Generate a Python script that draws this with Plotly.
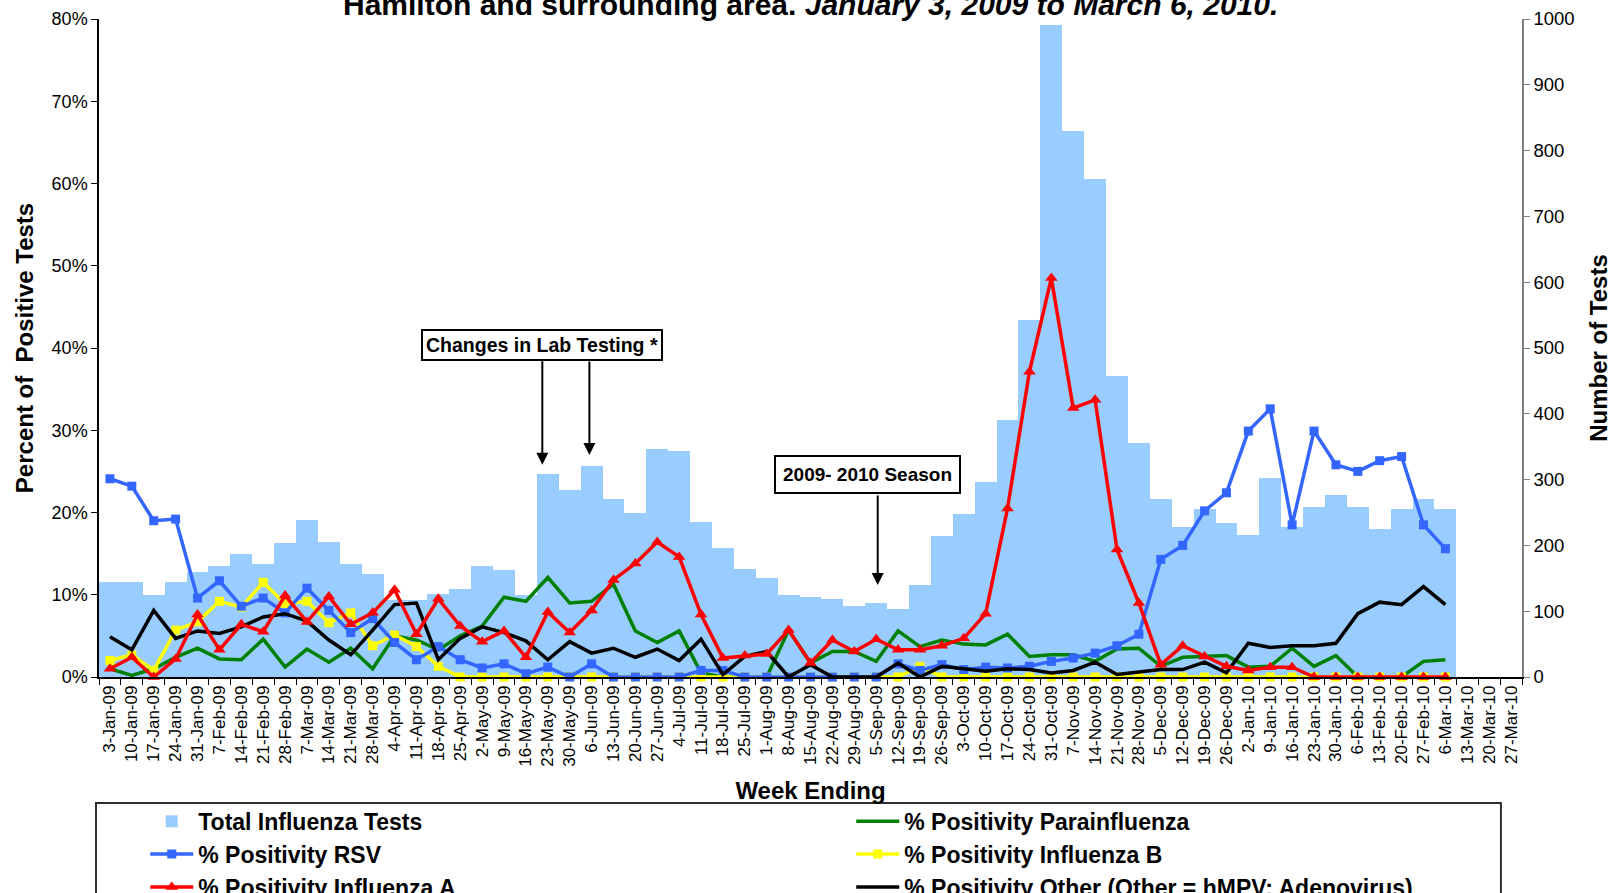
import plotly.graph_objects as go

weeks = ["3-Jan-09", "10-Jan-09", "17-Jan-09", "24-Jan-09", "31-Jan-09",
         "7-Feb-09", "14-Feb-09", "21-Feb-09", "28-Feb-09",
         "7-Mar-09", "14-Mar-09", "21-Mar-09", "28-Mar-09",
         "4-Apr-09", "11-Apr-09", "18-Apr-09", "25-Apr-09",
         "2-May-09", "9-May-09", "16-May-09", "23-May-09", "30-May-09",
         "6-Jun-09", "13-Jun-09", "20-Jun-09", "27-Jun-09",
         "4-Jul-09", "11-Jul-09", "18-Jul-09", "25-Jul-09",
         "1-Aug-09", "8-Aug-09", "15-Aug-09", "22-Aug-09", "29-Aug-09",
         "5-Sep-09", "12-Sep-09", "19-Sep-09", "26-Sep-09",
         "3-Oct-09", "10-Oct-09", "17-Oct-09", "24-Oct-09", "31-Oct-09",
         "7-Nov-09", "14-Nov-09", "21-Nov-09", "28-Nov-09",
         "5-Dec-09", "12-Dec-09", "19-Dec-09", "26-Dec-09",
         "2-Jan-10", "9-Jan-10", "16-Jan-10", "23-Jan-10", "30-Jan-10",
         "6-Feb-10", "13-Feb-10", "20-Feb-10", "27-Feb-10",
         "6-Mar-10", "13-Mar-10", "20-Mar-10", "27-Mar-10"]

# weeks with data: 3-Jan-09 .. 6-Mar-10
data_weeks = weeks[:62]

total_tests = [144, 145, 125, 145, 160, 168, 187, 172, 204, 238, 205, 172, 157,
               117, 117, 126, 134, 169, 163, 125, 308, 284, 320, 271, 250, 347,
               343, 236, 196, 164, 150, 125, 121, 118, 108, 113, 103, 140, 215,
               247, 296, 391, 543, 991, 830, 757, 458, 356, 270, 228, 256, 234,
               216, 303, 228, 259, 276, 259, 225, 255, 271, 255]

rsv = [24.1, 23.2, 19.0, 19.2, 9.6, 11.7, 8.6, 9.6, 7.8, 10.8, 8.1, 5.4, 7.1,
       4.2, 2.1, 3.7, 2.1, 1.1, 1.6, 0.4, 1.2, 0.0, 1.6, 0.0, 0.0, 0.0, 0.0,
       0.8, 0.8, 0.0, 0.0, 0.0, 0.0, 0.0, 0.0, 0.0, 1.6, 0.8, 1.5, 0.9, 1.2,
       1.1, 1.3, 1.9, 2.3, 2.9, 3.8, 5.2, 14.3, 16.0, 20.2, 22.4, 29.9, 32.6,
       18.5, 29.9, 25.8, 25.0, 26.3, 26.8, 18.5, 15.6]

flu_a = [1.0, 2.4, 0.0, 2.2, 7.6, 3.3, 6.4, 5.5, 9.9, 6.7, 9.8, 6.4, 7.8,
         10.6, 5.2, 9.5, 6.2, 4.3, 5.6, 2.4, 7.9, 5.4, 8.1, 11.8, 13.8, 16.4,
         14.6, 7.6, 2.3, 2.6, 2.8, 5.7, 1.7, 4.5, 3.1, 4.6, 3.3, 3.3, 3.8, 4.7,
         7.7, 20.5, 37.1, 48.5, 32.7, 33.7, 15.5, 9.0, 1.5, 3.8, 2.5, 1.3, 0.8,
         1.2, 1.2, 0.0, 0.0, 0.0, 0.0, 0.0, 0.0, 0.0]

parainfluenza = [1.0, 0.2, 1.0, 2.4, 3.5, 2.2, 2.1, 4.6, 1.2, 3.4, 1.8, 3.5,
                 1.0, 5.0, 4.5, 3.3, 5.0, 6.2, 9.7, 9.2, 12.1, 9.0, 9.2, 11.3,
                 5.6, 4.2, 5.6, 0.5, 0.0, 0.0, 0.0, 5.7, 1.7, 3.1, 3.1, 1.9,
                 5.6, 3.7, 4.5, 4.0, 3.9, 5.2, 2.5, 2.7, 2.7, 1.9, 3.4, 3.5,
                 1.3, 2.4, 2.5, 2.6, 1.2, 1.3, 3.5, 1.3, 2.6, 0.0, 0.0, 0.0,
                 1.9, 2.1]

flu_b = [2.0, 2.7, 0.8, 5.7, 6.7, 9.2, 8.5, 11.5, 8.9, 9.2, 6.6, 7.8, 3.8,
         5.1, 3.7, 1.3, 0.0, 0.0, 0.0, 0.0, 0.0, 0.0, 0.0, 0.0, 0.0, 0.0, 0.0,
         0.0, 0.0, 0.0, 0.0, 0.0, 0.0, 0.0, 0.0, 0.0, 0.0, 1.3, 0.0, 0.0, 0.0,
         0.0, 0.0, 0.0, 0.0, 0.0, 0.0, 0.0, 0.0, 0.0, 0.0, 0.0, 0.0, 0.0, 0.0,
         0.0, 0.0, 0.0, 0.0, 0.0, 0.0, 0.0]

other = [4.9, 3.3, 8.1, 4.7, 5.6, 5.3, 6.1, 7.3, 7.7, 6.8, 4.5, 2.7, 5.7, 8.8,
         9.0, 2.1, 4.7, 6.1, 5.4, 4.4, 2.1, 4.3, 2.9, 3.5, 2.4, 3.4, 2.0, 4.6,
         0.3, 2.5, 3.1, 0.0, 1.5, 0.0, 0.0, 0.0, 1.7, 0.0, 1.3, 1.0, 0.7, 1.0,
         0.9, 0.5, 0.8, 1.8, 0.3, 0.6, 0.9, 0.9, 1.8, 0.5, 4.1, 3.6, 3.8, 3.8,
         4.1, 7.7, 9.1, 8.8, 11.0, 8.8]

FONT = "Liberation Sans, Arial, sans-serif"

fig = go.Figure()

fig.add_trace(go.Bar(
    x=data_weeks, y=total_tests, yaxis="y",
    name="<b>Total Influenza Tests</b>", legendrank=1,
    marker=dict(color="#99CCFF", line=dict(width=0)),
))

line_w = 3.5
fig.add_trace(go.Scatter(
    x=data_weeks, y=parainfluenza, yaxis="y2", mode="lines",
    name="<b>% Positivity Parainfluenza</b>", legendrank=2,
    line=dict(color="#008000", width=line_w), cliponaxis=False,
))
fig.add_trace(go.Scatter(
    x=data_weeks, y=flu_b, yaxis="y2", mode="lines+markers",
    name="<b>% Positivity Influenza B</b>", legendrank=4,
    line=dict(color="#FFFF00", width=line_w),
    marker=dict(symbol="square", size=9, color="#FFFF00"), cliponaxis=False,
))
fig.add_trace(go.Scatter(
    x=data_weeks, y=rsv, yaxis="y2", mode="lines+markers",
    name="<b>% Positivity RSV</b>", legendrank=3,
    line=dict(color="#3366FF", width=line_w),
    marker=dict(symbol="square", size=9, color="#3366FF"), cliponaxis=False,
))
fig.add_trace(go.Scatter(
    x=data_weeks, y=other, yaxis="y2", mode="lines",
    name="<b>% Positivity Other (Other = hMPV; Adenovirus)</b>", legendrank=6,
    line=dict(color="#000000", width=line_w), cliponaxis=False,
))
fig.add_trace(go.Scatter(
    x=data_weeks, y=flu_a, yaxis="y2", mode="lines+markers",
    name="<b>% Positivity Influenza A</b>", legendrank=5,
    line=dict(color="#FF0000", width=line_w),
    marker=dict(symbol="triangle-up", size=11, color="#FF0000"), cliponaxis=False,
))

annotations = [
    dict(xref="paper", yref="paper", x=0.5, y=0.994, xanchor="center", yanchor="bottom",
         text="<b>Hamilton and surrounding area. <i>January 3, 2009 to March 6, 2010.</i></b>",
         showarrow=False, font=dict(family=FONT, size=30, color="black")),
    dict(xref="x", yref="y2", x=19.72, y=40.4, text="<b>Changes in Lab Testing *</b>",
         showarrow=False, font=dict(family=FONT, size=19.5, color="black"),
         bgcolor="white", bordercolor="black", borderwidth=2, borderpad=3),
    dict(xref="x", yref="y2", x=19.75, y=25.8, ax=0, ay=-105, text="",
         showarrow=True, arrowhead=2, arrowsize=1.2, arrowwidth=2, arrowcolor="black"),
    dict(xref="x", yref="y2", x=21.9, y=27.0, ax=0, ay=-95, text="",
         showarrow=True, arrowhead=2, arrowsize=1.2, arrowwidth=2, arrowcolor="black"),
    dict(xref="x", yref="y2", x=34.62, y=24.6, text="<b>2009- 2010 Season</b>",
         showarrow=False, font=dict(family=FONT, size=19, color="black"),
         bgcolor="white", bordercolor="black", borderwidth=2, borderpad=7),
    dict(xref="x", yref="y2", x=35.07, y=11.2, ax=0, ay=-91, text="",
         showarrow=True, arrowhead=2, arrowsize=1.2, arrowwidth=2, arrowcolor="black"),
]

shapes = [
    dict(type="rect", xref="paper", yref="paper", x0=-0.0021, x1=0.9852,
         y0=-0.1915, y1=-0.40, line=dict(color="#303030", width=2), fillcolor="rgba(0,0,0,0)"),
]

fig.update_layout(
    width=1614, height=893,
    margin=dict(l=99, r=92, t=19, b=216, autoexpand=False),
    paper_bgcolor="white", plot_bgcolor="white",
    font=dict(family=FONT, color="black", size=17),
    bargap=0,
    showlegend=True,
    legend=dict(
        orientation="h", x=0.0325, xanchor="left", y=-0.1865, yanchor="top",
        entrywidth=648, entrywidthmode="pixels", itemwidth=43,
        font=dict(family=FONT, size=23, color="black"),
        bgcolor="rgba(0,0,0,0)", borderwidth=0,
    ),
    xaxis=dict(
        type="category", categoryorder="array", categoryarray=weeks,
        range=[-0.5, len(weeks) - 0.5],
        tickmode="linear", tick0=0, dtick=1, tickangle=-90,
        tickson="boundaries", ticks="outside", ticklen=6, tickcolor="black",
        showline=True, linecolor="black", linewidth=1.5, showgrid=False,
        tickfont=dict(family=FONT, size=17, color="black"),
        title=dict(text="<b>Week Ending</b>", font=dict(family=FONT, size=24), standoff=16),
    ),
    yaxis=dict(
        side="right", range=[0, 1000], dtick=100, tick0=0,
        ticks="outside", ticklen=6, tickcolor="#808080",
        showline=True, linecolor="#808080", linewidth=1.5,
        showgrid=False, zeroline=False,
        tickfont=dict(family=FONT, size=18.5, color="black"),
        title=dict(text="<b>Number of Tests</b>", font=dict(family=FONT, size=24), standoff=17),
    ),
    yaxis2=dict(
        overlaying="y", side="left", range=[0, 80], dtick=10, tick0=0,
        ticksuffix="%", ticks="outside", ticklen=6, tickcolor="black",
        showline=True, linecolor="black", linewidth=1.5,
        showgrid=False, zeroline=False,
        tickfont=dict(family=FONT, size=18, color="black"),
        title=dict(text="<b>Percent of  Positive Tests</b>", font=dict(family=FONT, size=24), standoff=11),
    ),
    annotations=annotations,
    shapes=shapes,
)

fig.write_html("out.html", config={"displayModeBar": False},
               post_script="document.body.style.margin='0';")
